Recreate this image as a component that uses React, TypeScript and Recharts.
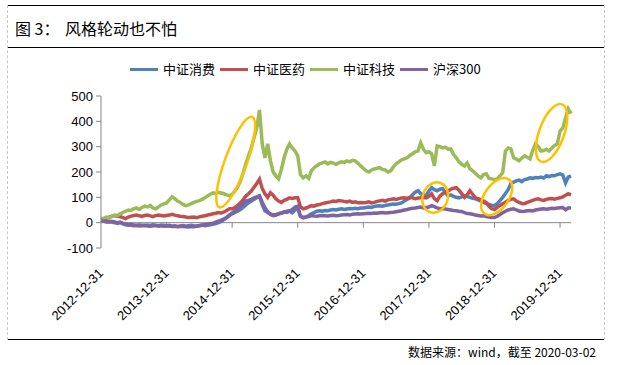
import React from "react";
import { LineChart, Line, XAxis, YAxis, ReferenceLine, ReferenceDot } from "recharts";

// half-monthly points from 2012-12-31 to 2020-03-02, index 0..172
const consume = [
  8, 5, 3, 6, 2, 0, -3, 0, -5, -8, -10, -6, -9, -12, -8, -10, -12, -9, -11, -8, -10, -12, -9, -10,
  -12, -10, -14, -12, -15, -13, -11, -14, -12, -10, -12, -13, -11, -9, -12, -10, -8, -6, -4, 0, 5, 12, 20, 30,
  35, 40, 45, 52, 60, 70, 78, 85, 92, 98, 104, 70, 47, 40, 35, 30, 32, 35, 38, 42, 40, 45, 39, 50,
  55, 25, 20, 22, 28, 35, 40, 45, 47, 45, 48, 47, 50, 52, 50, 53, 55, 52, 54, 56, 55, 57, 55, 58,
  58, 60, 62, 60, 64, 66, 67, 65, 68, 70, 72, 74, 73, 75, 78, 85, 92, 98, 110, 120, 126, 115, 108, 106,
  125, 138, 130, 126, 132, 134, 120, 106, 110, 104, 100, 98, 102, 106, 104, 100, 96, 94, 90, 85, 80, 75, 72, 68,
  68, 75, 87, 100, 115, 130, 154, 160, 165, 168, 162, 170, 172, 177, 175, 178, 177, 180, 176, 185, 182, 186, 185, 190,
  193, 188, 157, 180, 185,
];
const medicine = [
  10, 14, 18, 22, 26, 28, 25, 24, 20, 16, 22, 26, 28, 30, 27, 25, 28, 30, 27, 24, 28, 30, 28, 26,
  28, 30, 33, 30, 27, 25, 24, 22, 20, 21, 22, 20, 23, 25, 27, 30, 32, 35, 37, 40, 38, 42, 48, 55,
  55, 60, 68, 78, 90, 105, 114, 125, 140, 155, 172, 135, 114, 100, 118, 108, 94, 85, 80, 88, 92, 98, 96, 98,
  98, 62, 55, 58, 62, 67, 65, 70, 72, 75, 78, 80, 82, 85, 84, 87, 86, 84, 82, 85, 80, 82, 79, 80,
  79, 80, 82, 78, 80, 84, 86, 88, 85, 90, 92, 94, 92, 95, 97, 98, 96, 100, 98, 95, 97, 98, 100, 98,
  104, 114, 95, 87, 105, 114, 120, 125, 132, 136, 138, 128, 115, 100, 110, 126, 112, 98, 95, 90, 85, 79, 65, 55,
  52, 60, 68, 75, 80, 88, 92, 94, 85, 80, 76, 75, 80, 84, 88, 92, 94, 90, 88, 92, 94, 95, 93, 96,
  98, 102, 108, 114, 110,
];
const tech = [
  15, 18, 22, 20, 25, 30, 28, 35, 40, 45, 50, 48, 55, 58, 52, 60, 65, 62, 68, 58, 55, 62, 70, 74,
  78, 90, 102, 95, 85, 80, 72, 67, 70, 75, 80, 84, 87, 92, 98, 105, 112, 118, 115, 120, 117, 114, 110, 106,
  112, 125, 140, 165, 195, 232, 265, 295, 335, 374, 445, 311, 256, 311, 244, 200, 185, 173, 210, 256, 290, 311, 295, 283,
  264, 190, 177, 185, 175, 205, 217, 225, 232, 236, 240, 232, 238, 235, 230, 236, 240, 238, 244, 240, 246, 244, 235, 224,
  215, 205, 200, 208, 212, 215, 217, 210, 208, 200, 205, 220, 232, 240, 248, 252, 256, 265, 272, 280, 283, 315, 290, 276,
  280, 272, 224, 303, 300, 295, 298, 290, 291, 270, 256, 240, 230, 224, 236, 213, 205, 195, 185, 177, 190, 193, 175, 173,
  170, 173, 185, 197, 283, 295, 291, 256, 250, 244, 255, 264, 258, 252, 285, 311, 300, 283, 285, 290, 283, 295, 305, 311,
  362, 374, 413, 449, 430,
];
const hs300 = [
  8, 6, 4, 2, 5, 3, 0, 2, -2, -5, -8, -10, -12, -10, -13, -12, -10, -13, -14, -12, -11, -13, -12, -14,
  -12, -13, -15, -14, -16, -15, -14, -16, -17, -15, -16, -14, -12, -10, -8, -6, -4, -2, 2, 6, 10, 15, 20, 28,
  39, 45, 55, 65, 75, 85, 88, 92, 98, 102, 106, 80, 59, 42, 32, 28, 30, 35, 38, 42, 45, 47, 52, 62,
  65, 25, 20, 22, 24, 28, 26, 25, 27, 28, 27, 26, 28, 29, 27, 28, 30, 31, 32, 30, 33, 34, 35, 34,
  35, 36, 37, 36, 38, 37, 39, 40, 38, 39, 40, 41, 43, 45, 47, 50, 52, 55, 57, 58, 60, 62, 58, 60,
  62, 67, 63, 58, 55, 56, 54, 52, 50, 48, 47, 45, 44, 40, 36, 35, 33, 30, 28, 26, 27, 24, 22, 20,
  20, 25, 32, 39, 45, 50, 53, 55, 50, 46, 44, 45, 47, 48, 46, 50, 52, 54, 55, 53, 55, 57, 56, 58,
  59, 60, 51, 58, 59,
];

const xTicks = [0, 24, 48, 72, 96, 120, 144, 168];
const xTickLabels = [
  "2012-12-31", "2013-12-31", "2014-12-31", "2015-12-31",
  "2016-12-31", "2017-12-31", "2018-12-31", "2019-12-31",
];
const yTicks = [-100, 0, 100, 200, 300, 400, 500];

// orange highlight rings: [index, value]
const highlights = [
  { i: 49.3, v: 239, rx: 11, ry: 48, rot: 20 },
  { i: 122.3, v: 99, rx: 12.5, ry: 15.5, rot: 20 },
  { i: 144.8, v: 103, rx: 12, ry: 21, rot: 35 },
  { i: 164.9, v: 354, rx: 12.5, ry: 30.5, rot: 20 },
];

const series = [
  { key: "consume", name: "中证消费", color: "#4F81BD" },
  { key: "medicine", name: "中证医药", color: "#C0504D" },
  { key: "tech", name: "中证科技", color: "#9BBB59" },
  { key: "hs300", name: "沪深300", color: "#8064A2" },
];

const data = consume.map((v, i) => ({
  i,
  consume: v,
  medicine: medicine[i],
  tech: tech[i],
  hs300: hs300[i],
}));

const axisGray = "#868686";
const numFont = '"Liberation Sans", Arial, sans-serif';
const cjkFont = '"Noto Sans CJK SC", "Noto Sans", sans-serif';

function DateTick(props: any) {
  const { x, y, payload } = props;
  const label = xTickLabels[xTicks.indexOf(payload.value)] ?? "";
  const ax = x + 3;
  const ay = y + 18;
  return (
    <text
      x={ax}
      y={ay}
      textAnchor="end"
      fontSize={13}
      fontFamily={numFont}
      fill="#000"
      transform={`rotate(-45, ${ax}, ${ay})`}
    >
      {label}
    </text>
  );
}

function Ring(props: any) {
  const { cx, cy, rx, ry, rot } = props;
  return (
    <ellipse
      cx={cx}
      cy={cy}
      rx={rx}
      ry={ry}
      fill="none"
      stroke="#FFC000"
      strokeWidth={2.5}
      transform={`rotate(${rot}, ${cx}, ${cy})`}
    />
  );
}

export default function App() {
  return (
    <div
      style={{
        position: "absolute",
        left: 0,
        top: 0,
        width: 617,
        height: 365,
        background: "#fff",
        overflow: "hidden",
      }}
    >
      {/* frame */}
      <div style={{ position: "absolute", left: 7, top: 5, width: 597, borderTop: "1.5px solid #000" }} />
      <div style={{ position: "absolute", left: 7, top: 47, width: 597, borderTop: "1.5px solid #000" }} />
      <div style={{ position: "absolute", left: 7, top: 339, width: 597, borderTop: "1.5px solid #000" }} />
      <div style={{ position: "absolute", left: 7, top: 5, height: 335, borderLeft: "1px dashed #c8c8c8" }} />
      <div style={{ position: "absolute", left: 604, top: 5, height: 335, borderLeft: "1px dashed #c8c8c8" }} />

      <div
        style={{
          position: "absolute",
          left: 15,
          top: 17,
          fontSize: 16,
          lineHeight: "22px",
          fontFamily: cjkFont,
          color: "#000",
          whiteSpace: "nowrap",
        }}
      >
        图 3：
      </div>
      <div
        style={{
          position: "absolute",
          left: 65,
          top: 17,
          fontSize: 16,
          lineHeight: "22px",
          fontFamily: cjkFont,
          color: "#000",
          whiteSpace: "nowrap",
        }}
      >
        风格轮动也不怕
      </div>

      {/* legend */}
      <div
        style={{
          position: "absolute",
          left: 130,
          top: 60,
          display: "flex",
          alignItems: "center",
          fontSize: 13,
          lineHeight: "18px",
          fontFamily: cjkFont,
          color: "#000",
          whiteSpace: "nowrap",
        }}
      >
        {series.map((s) => (
          <div key={s.key} style={{ display: "flex", alignItems: "center", marginRight: 5 }}>
            <span style={{ display: "inline-block", width: 28, height: 3, background: s.color, marginRight: 5 }} />
            <span>{s.name}</span>
          </div>
        ))}
      </div>

      <div style={{ position: "absolute", left: 0, top: 0 }}>
        <LineChart
          width={617}
          height={340}
          data={data}
          margin={{ top: 96, right: 46, bottom: 0, left: 0 }}
        >
          <XAxis
            dataKey="i"
            type="number"
            domain={[0, 172]}
            ticks={xTicks}
            interval={0}
            axisLine={false}
            tickLine={false}
            height={92}
            tick={<DateTick />}
          />
          <YAxis
            type="number"
            domain={[-100, 500]}
            ticks={yTicks}
            interval={0}
            width={101}
            axisLine={{ stroke: axisGray }}
            tickLine={{ stroke: axisGray }}
            tickSize={5}
            tickMargin={3}
            tick={{ fontSize: 13, fill: "#000", fontFamily: numFont }}
          />
          <ReferenceLine y={0} stroke={axisGray} strokeWidth={1} />
          {xTicks.slice(1).map((t) => (
            <ReferenceLine
              key={t}
              segment={[
                { x: t, y: 0 },
                { x: t, y: -20 },
              ]}
              stroke={axisGray}
            />
          ))}
          {series.map((s) => (
            <Line
              key={s.key}
              type="linear"
              dataKey={s.key}
              name={s.name}
              stroke={s.color}
              strokeWidth={3.5}
              dot={false}
              isAnimationActive={false}
            />
          ))}
          {highlights.map((h, idx) => (
            <ReferenceDot
              key={idx}
              x={h.i}
              y={h.v}
              r={1}
              shape={(p: any) => <Ring cx={p.cx} cy={p.cy} rx={h.rx} ry={h.ry} rot={h.rot} />}
            />
          ))}
        </LineChart>
      </div>

      <div
        style={{
          position: "absolute",
          right: 21,
          top: 344,
          fontSize: 12,
          lineHeight: "16px",
          fontFamily: cjkFont,
          color: "#000",
          whiteSpace: "nowrap",
        }}
      >
        数据来源：wind，截至 2020-03-02
      </div>
    </div>
  );
}
